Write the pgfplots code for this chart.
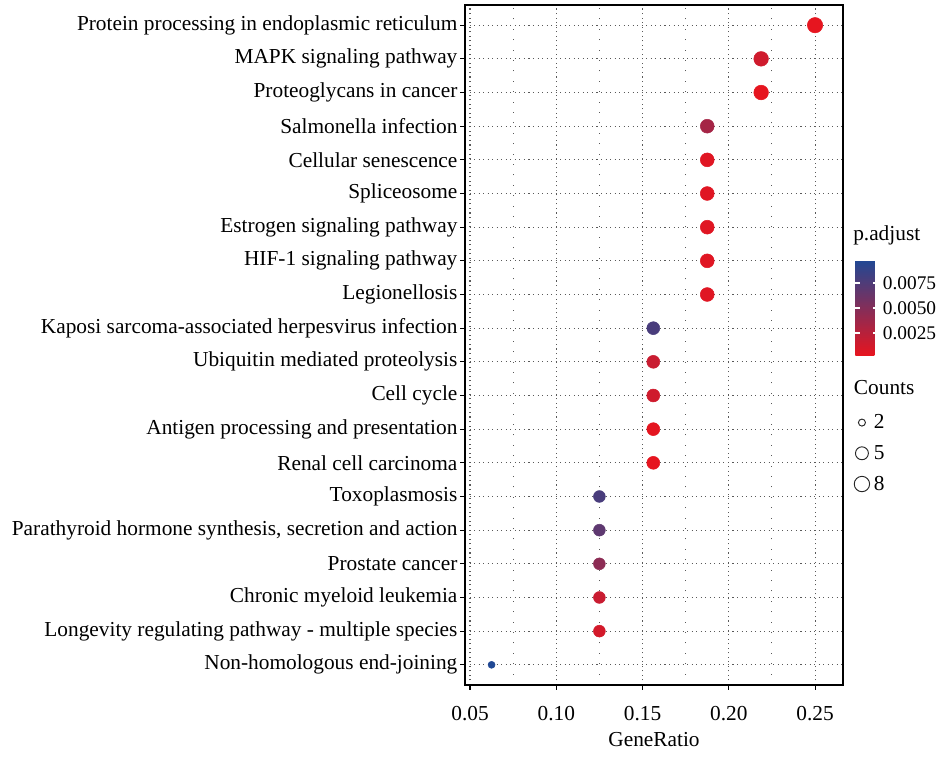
\documentclass[border=0pt]{standalone}
\usepackage{pgfplots}
\usepackage{pgfplotstable}
\pgfplotsset{compat=1.18}
\usepackage{fontspec}
\setmainfont{Liberation Serif}

\pgfplotstableread{
x y count padj
0.25 20 8 0.0003
0.21875 19 7 0.0014
0.21875 18 7 0.0003
0.1875 17 6 0.0034
0.1875 16 6 0.0006
0.1875 15 6 0.0006
0.1875 14 6 0.0006
0.1875 13 6 0.0006
0.1875 12 6 0.0006
0.15625 11 5 0.0078
0.15625 10 5 0.0017
0.15625 9 5 0.0014
0.15625 8 5 0.0004
0.15625 7 5 0.0003
0.125 6 4 0.0078
0.125 5 4 0.0068
0.125 4 4 0.0046
0.125 3 4 0.0017
0.125 2 4 0.0012
0.0625 1 2 0.0098
}\pathdata

\begin{document}
\begin{tikzpicture}[x=1pt,y=1pt]
\begin{axis}[
  name=main,
  scale only axis,
  width=283.5pt, height=510pt,
  xmin=0.0471, xmax=0.2662,
  ymin=0.4, ymax=20.6,
  font=\fontsize{16}{19}\selectfont,
  /pgf/number format/assume math mode=true,
  xtick={0.05,0.10,0.15,0.20,0.25},
  xticklabels={0.05,0.10,0.15,0.20,0.25},
  minor xtick={0.075,0.125,0.175,0.225},
  ytick={1,...,20},
  yticklabels={Non-homologous end-joining,
    Longevity regulating pathway - multiple species,
    Chronic myeloid leukemia,
    Prostate cancer,
    {Parathyroid hormone synthesis, secretion and action},
    Toxoplasmosis,
    Renal cell carcinoma,
    Antigen processing and presentation,
    Cell cycle,
    Ubiquitin mediated proteolysis,
    Kaposi sarcoma-associated herpesvirus infection,
    Legionellosis,
    HIF-1 signaling pathway,
    Estrogen signaling pathway,
    Spliceosome,
    Cellular senescence,
    Salmonella infection,
    Proteoglycans in cancer,
    MAPK signaling pathway,
    Protein processing in endoplasmic reticulum},
  tick align=outside,
  xtick pos=bottom, ytick pos=left,
  major tick length=3.5pt,
  minor tick length=0pt,
  tick style={black, line width=0.8pt},
  yticklabel style={inner xsep=2pt},
  xticklabel style={inner ysep=12pt},
  xlabel={GeneRatio},
  xlabel style={inner sep=1pt, yshift=4pt},
  grid=major,
  xminorgrids=true,
  major grid style={dash pattern=on 0.8pt off 2.6pt, black!65, line width=0.8pt},
  minor grid style={dash pattern=on 0.8pt off 7pt, black!65, line width=0.8pt},
  axis line style={black, line width=1pt},
  colormap={padj}{rgb255=(232,20,30) rgb255=(32,72,148)},
  point meta min=0.0002, point meta max=0.0098,
  colorbar right,
  colorbar style={
    at={(parent axis.north east)}, anchor=north west,
    xshift=0.75pt, yshift=-191.25pt,
    width=17pt, height=72pt,
    ytick={0.0025,0.005,0.0075},
    yticklabels={0.0025,0.0050,0.0075},
    scaled y ticks=false,
    ytick pos=both, yticklabel pos=right,
    tick align=inside,
    major tick length=3.5pt,
    tick style={white, line width=0.8pt},
    axis line style={draw=none},
    axis on top,
    yticklabel style={font=\fontsize{14.5}{17}\selectfont, inner xsep=3.5pt},
  },
  legend style={
    at={(1,0.406)}, anchor=north west,
    xshift=4pt,
    draw=none, fill=none,
    font=\fontsize{16}{19}\selectfont,
    row sep=7pt,
    legend cell align=left,
  },
  legend image code/.code={\path[draw=none] (-7pt,0) -- (7pt,0); \draw[#1] plot coordinates {(0pt,0pt)};},
]
\addplot[
  scatter, only marks, mark=*,
  forget plot,
  point meta=\thisrow{padj},
  scatter/use mapped color={draw=mapped color, fill=mapped color},
  visualization depends on={\thisrow{count} \as \cnt},
  scatter/@pre marker code/.append style={/tikz/mark size={2.625+1.28*sqrt(\cnt-2)}},
] table[x=x, y=y] {\pathdata};
\addlegendimage{only marks, mark=o, mark size=2.63pt, black!85, line width=0.7pt}
\addlegendentry{2}
\addlegendimage{only marks, mark=o, mark size=4.85pt, black!85, line width=0.7pt}
\addlegendentry{5}
\addlegendimage{only marks, mark=o, mark size=5.76pt, black!85, line width=0.7pt}
\addlegendentry{8}
\end{axis}
\node[anchor=south west, inner sep=0pt, font=\fontsize{16}{19}\selectfont] at ([xshift=7.5pt, yshift=-180pt]main.north east) {p.adjust};
\node[anchor=west, inner sep=0pt, font=\fontsize{16}{19}\selectfont] at ([xshift=8pt, yshift=-287pt]main.north east) {Counts};
\pgfresetboundingbox
\path ([xshift=-348.75pt, yshift=-53.25pt]main.south west) rectangle ([xshift=72.75pt, yshift=3.75pt]main.north east);
\end{tikzpicture}
\end{document}
